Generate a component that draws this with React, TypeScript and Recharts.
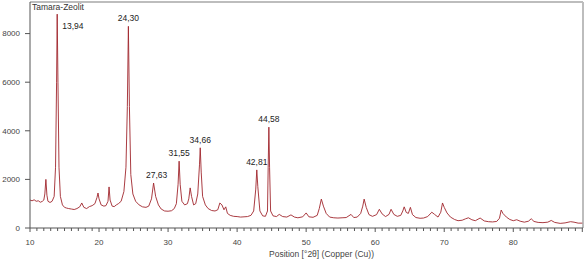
import React from "react";
import { LineChart, Line, XAxis, YAxis, ReferenceDot, ReferenceLine } from "recharts";

const twoTheta: number[] = [
  10.0, 10.3, 10.6, 10.9, 11.2, 11.5, 11.8, 12.0, 12.15, 12.3, 12.45, 12.6, 12.9, 13.2, 13.5, 13.7, 13.85, 13.94, 14.05, 14.2,
  14.4, 14.7, 15.0, 15.3, 15.6, 16.0, 16.4, 16.8, 17.2, 17.5, 17.8, 18.2, 18.6, 19.0, 19.4, 19.7, 19.85, 20.0, 20.3, 20.7,
  21.0, 21.3, 21.45, 21.6, 21.9, 22.2, 22.5, 22.8, 23.2, 23.6, 23.9, 24.1, 24.25, 24.4, 24.6, 24.9, 25.3, 25.8, 26.3, 26.8,
  27.2, 27.6, 27.9, 28.2, 28.6, 29.0, 29.5, 30.0, 30.5, 30.9, 31.2, 31.45, 31.6, 31.75, 32.0, 32.4, 32.8, 33.0, 33.2, 33.4,
  33.7, 34.0, 34.3, 34.55, 34.66, 34.8, 35.0, 35.4, 35.8, 36.3, 36.8, 37.2, 37.5, 37.8, 38.1, 38.35, 38.6, 39.0, 39.5, 40.0,
  40.5, 41.0, 41.5, 42.0, 42.4, 42.7, 42.85, 43.0, 43.3, 43.7, 44.1, 44.4, 44.5, 44.6, 44.7, 44.85, 45.2, 45.7, 46.1, 46.6,
  47.2, 47.8, 48.3, 48.8, 49.5, 50.0, 50.4, 51.0, 51.6, 51.9, 52.2, 52.5, 52.9, 53.4, 54.0, 54.6, 55.2, 55.8, 56.5, 56.9,
  57.4, 57.9, 58.2, 58.4, 58.7, 59.1, 59.6, 60.2, 60.6, 61.0, 61.5, 62.0, 62.3, 62.7, 63.2, 63.7, 64.0, 64.2, 64.5, 64.8,
  65.1, 65.4, 65.9, 66.5, 67.0, 67.6, 68.2, 68.6, 69.1, 69.5, 69.75, 70.0, 70.4, 70.9, 71.5, 72.0, 72.6, 73.1, 73.5, 74.0,
  74.5, 75.2, 75.8, 76.4, 77.0, 77.6, 78.0, 78.25, 78.5, 79.0, 79.5, 80.0, 80.5, 81.0, 81.6, 82.2, 82.6, 83.0, 83.6, 84.3,
  85.0, 85.5, 86.0, 86.8, 87.5, 88.3, 88.8, 89.4, 90.0,
];

const counts: number[] = [
  1150, 1120, 1160, 1100, 1120, 1060, 1100, 1150, 1400, 2000, 1350, 1100, 1050, 1100, 1300, 2500, 6000, 8800, 6000, 2500,
  1300, 950, 850, 820, 800, 780, 760, 800, 870, 1030, 850, 800, 880, 920, 1000, 1250, 1440, 1200, 950, 900,
  920, 1100, 1690, 1150, 900, 880, 950, 1000, 1100, 1500, 2500, 5000, 8300, 5000, 2200, 1400, 1100, 950, 870, 850,
  900, 1200, 1850, 1300, 950, 780, 700, 690, 710, 800, 1000, 1800, 2750, 1800, 1100, 950, 1000, 1200, 1650, 1300,
  950, 1000, 1400, 2600, 3300, 2300, 1300, 950, 800, 720, 700, 750, 1030, 950, 750, 870, 600, 520, 480, 470,
  450, 460, 470, 520, 700, 1600, 2390, 1700, 700, 500, 480, 700, 2500, 4150, 2500, 700, 500, 470, 560, 470,
  450, 540, 450, 420, 460, 620, 460, 440, 520, 800, 1190, 900, 600, 450, 420, 410, 420, 430, 560, 430,
  450, 600, 900, 1190, 850, 550, 480, 550, 770, 580, 470, 560, 770, 560, 480, 520, 700, 870, 640, 600,
  850, 550, 430, 400, 410, 470, 650, 560, 450, 650, 1030, 850, 620, 450, 350, 300, 320, 380, 420, 340,
  300, 410, 290, 260, 250, 270, 400, 740, 600, 450, 350, 300, 340, 280, 240, 280, 380, 270, 230, 220,
  240, 310, 230, 190, 210, 260, 240, 200, 200,
];

const peakPositions: number[] = [13.94, 24.25, 27.9, 31.6, 34.66, 42.85, 44.6];
const peakHeights: number[] = [8800, 8300, 1850, 2750, 3300, 2390, 4150];
const peakLabels: string[] = ["13,94", "24,30", "27,63", "31,55", "34,66", "42,81", "44,58"];

const yTicks: number[] = [0, 2000, 4000, 6000, 8000];
const xTicks: number[] = Array.from({ length: 81 }, (_, i) => 10 + i);

const data = twoTheta.map((t, i) => ({ t, c: counts[i] }));

const FONT = "'Liberation Sans', Arial, sans-serif";

const XTick = (props: any) => {
  const { x, y, payload } = props;
  const v = payload.value as number;
  const major = v % 10 === 0;
  return (
    <g>
      <line x1={x} x2={x} y1={y} y2={y + (major ? 4 : 3)} stroke="#555" strokeWidth={1} />
      {major && v < 90 ? (
        <text x={x} y={y + 17} textAnchor="middle" fontSize={8} fill="#444" fontFamily={FONT}>
          {v}
        </text>
      ) : null}
    </g>
  );
};

const makePeakLabel = (text: string, idx: number) => (props: any) => {
  const vb = props.viewBox || {};
  const cx = (vb.x ?? 0) + (vb.width ?? 0) / 2;
  const cy = (vb.y ?? 0) + (vb.height ?? 0) / 2;
  if (idx === 0) {
    return (
      <text x={cx + 5} y={cy + 15} textAnchor="start" fontSize={8.5} fill="#222" fontFamily={FONT}>
        {text}
      </text>
    );
  }
  return (
    <text x={cx + (idx === 2 ? 3 : 0)} y={cy - 5} textAnchor="middle" fontSize={8.5} fill="#222" fontFamily={FONT}>
      {text}
    </text>
  );
};

export default function App() {
  return (
    <div style={{ position: "relative", width: 587, height: 262, background: "#fff" }}>
      <style>{`body{margin:0}`}</style>
      <LineChart width={587} height={262} data={data} margin={{ top: 2, right: 4, left: 0, bottom: 0 }}>
        <XAxis
          dataKey="t"
          type="number"
          domain={[10, 90.1]}
          ticks={xTicks}
          interval={0}
          tick={<XTick />}
          tickLine={false}
          tickSize={0}
          tickMargin={0}
          height={34}
          axisLine={{ stroke: "#555" }}
          allowDataOverflow
          label={{
            value: "Position [°2θ] (Copper (Cu))",
            position: "insideBottom",
            offset: 5,
            dx: 15,
            fontSize: 8.5,
            fill: "#444",
            fontFamily: FONT,
          }}
        />
        <YAxis
          type="number"
          domain={[0, 9300]}
          ticks={yTicks}
          interval={0}
          width={30}
          tickSize={5}
          tickMargin={5}
          axisLine={{ stroke: "#555" }}
          tickLine={{ stroke: "#555" }}
          tick={{ fontSize: 8, fill: "#444", fontFamily: FONT }}
          allowDataOverflow
        />
        <ReferenceLine y={9300} stroke="#bdbdbd" strokeWidth={2} />
        <ReferenceLine x={90.1} stroke="#bdbdbd" strokeWidth={2} />
        <Line
          type="linear"
          dataKey="c"
          stroke="#a0262d"
          strokeWidth={0.9}
          dot={false}
          isAnimationActive={false}
        />
        {peakPositions.map((p, i) => (
          <ReferenceDot
            key={i}
            x={p}
            y={peakHeights[i]}
            r={0}
            fill="none"
            stroke="none"
            label={makePeakLabel(peakLabels[i], i)}
          />
        ))}
      </LineChart>
      <div
        style={{
          position: "absolute",
          left: 32,
          top: 3,
          fontSize: 8.5,
          color: "#333",
          fontFamily: FONT,
          lineHeight: "9px",
        }}
      >
        Tamara-Zeolit
      </div>
    </div>
  );
}
